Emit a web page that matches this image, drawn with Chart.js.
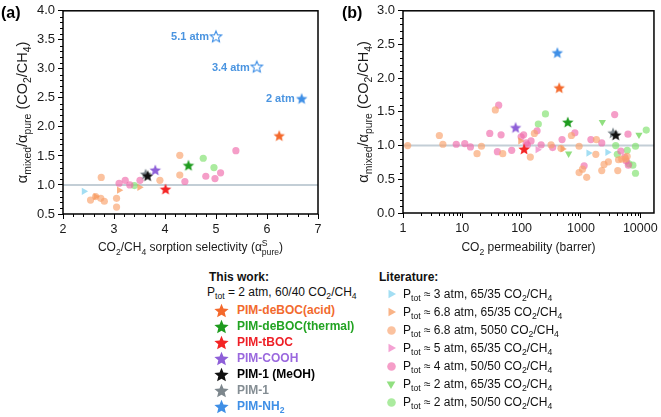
<!DOCTYPE html>
<html>
<head>
<meta charset="utf-8">
<script src="https://cdn.jsdelivr.net/npm/chart.js@4.4.1/dist/chart.umd.min.js"></script>
<style>
	body { margin: 0; background: #fff; }
	#wrap { position: relative; width: 661px; height: 417px; overflow: hidden; font-family: 'Liberation Sans', Arial, sans-serif; color: #111; }
	#chart-a { position: absolute; left: 0; top: 0; }
	#chart-b { position: absolute; left: 330px; top: 0; }
	.lg { position: absolute; white-space: nowrap; line-height: 1; transform: translateY(-50%); font-size: 12px; }
	.lg sub { font-size: 72%; vertical-align: -0.3em; line-height: 0; }
	.b { font-weight: bold; }
</style>
</head>
<body>
<div id="wrap">
	<canvas id="chart-a" width="330" height="260"></canvas>
	<canvas id="chart-b" width="331" height="260"></canvas>
</div>
<script>
// ---- axes ----
const selTicks = [2, 3, 4, 5, 6, 7];
const ratioTicksA = [0.5, 1.0, 1.5, 2.0, 2.5, 3.0, 3.5, 4.0];
const permTicks = [1, 10, 100, 1000, 10000];
const ratioTicksB = [0, 0.5, 1.0, 1.5, 2.0, 2.5, 3.0];
const PERM_MAX = 17000;
const REF_RATIO = 1.0;

// ---- this work ----
const workNames = ['PIM-deBOC(acid)', 'PIM-deBOC(thermal)', 'PIM-tBOC', 'PIM-COOH', 'PIM-1 (MeOH)', 'PIM-1', 'PIM-NH<sub>2</sub>'];
const workColors = ['#f4692c', '#1e9b1e', '#f42424', '#8e5fd8', '#111111', '#7d878d', '#3f8fe6'];
const workTextColors = ['#f26a2e', '#22a322', '#ee1f26', '#9a68de', '#000000', '#848d93', '#3f8fe6'];

// panel (a): sorption selectivity vs mixed/pure ratio (first six)
const workSelA = [6.24, 4.46, 4.01, 3.81, 3.66, 3.62];
const workRatioA = [1.85, 1.34, 0.93, 1.26, 1.16, 1.19];
// PIM-NH2 at three feed pressures
const nh2Press = ['5.1 atm', '3.4 atm', '2 atm'];
const nh2SelA = [5.0, 5.8, 6.68];
const nh2RatioA = [3.56, 3.04, 2.49];

// panel (b): CO2 permeability vs ratio (all seven)
const workPermB = [430, 600, 110, 79, 3850, 3470, 400];
const workRatioB = [1.86, 1.35, 0.95, 1.27, 1.16, 1.19, 2.38];

// ---- literature ----
const litLabels = [
	'P<sub>tot</sub> ≈ 3 atm, 65/35 CO<sub>2</sub>/CH<sub>4</sub>',
	'P<sub>tot</sub> ≈ 6.8 atm, 65/35 CO<sub>2</sub>/CH<sub>4</sub>',
	'P<sub>tot</sub> ≈ 6.8 atm, 5050 CO<sub>2</sub>/CH<sub>4</sub>',
	'P<sub>tot</sub> ≈ 5 atm, 65/35 CO<sub>2</sub>/CH<sub>4</sub>',
	'P<sub>tot</sub> ≈ 4 atm, 50/50 CO<sub>2</sub>/CH<sub>4</sub>',
	'P<sub>tot</sub> ≈ 2 atm, 65/35 CO<sub>2</sub>/CH<sub>4</sub>',
	'P<sub>tot</sub> ≈ 2 atm, 50/50 CO<sub>2</sub>/CH<sub>4</sub>',
];
const litColors = ['rgba(140,214,240,0.8)', 'rgba(247,154,94,0.75)', 'rgba(249,162,108,0.65)', 'rgba(240,122,192,0.7)', 'rgba(240,106,170,0.65)', 'rgba(108,212,86,0.75)', 'rgba(126,224,108,0.65)'];
const litShapes = ['triangle', 'triangle', 'circle', 'triangle', 'circle', 'triangle', 'circle'];
const litRotation = [90, 90, 0, 90, 0, 180, 0];

// panel (a) points [selectivity, ratio]
const lit3A = [[2.41, 0.89]];
const lit68A = [[2.64, 0.80], [3.10, 0.91], [3.50, 0.96]];
const lit68bA = [[2.54, 0.74], [2.64, 0.80], [2.74, 0.77], [2.81, 0.72], [2.75, 1.13], [3.05, 0.77], [3.05, 0.62], [3.90, 1.08], [4.29, 1.51], [4.29, 1.17]];
const lit5A = [];
const lit4A = [[3.10, 1.03], [3.22, 1.08], [3.31, 1.00], [3.51, 1.08], [4.39, 1.06], [4.80, 1.15], [4.98, 1.11], [5.09, 1.21], [5.39, 1.59]];
const lit2A = [];
const lit2bA = [[3.40, 0.99], [4.75, 1.46], [4.96, 1.30]];

// panel (b) points [permeability, ratio]
const lit3B = [[1340, 0.89], [2800, 0.90]];
const lit68B = [[95, 1.07], [490, 0.95]];
const lit68bB = [[1.2, 1.00], [4.1, 1.15], [4.7, 1.02], [17.7, 0.88], [21, 0.99], [36, 1.53], [48, 0.88], [140, 0.83], [164, 1.18], [313, 1.01], [460, 0.96], [690, 1.15], [930, 0.99], [930, 0.60], [1060, 0.65], [1250, 0.53], [1780, 0.87], [1820, 1.09], [2240, 0.63], [2450, 0.72], [2900, 0.76], [4170, 0.63], [4300, 0.79], [4850, 0.80], [5630, 0.80], [6000, 0.84]];
const lit5B = [[186, 0.94]];
const lit4B = [[7.9, 1.02], [11, 1.03], [13.7, 0.98], [29, 1.18], [39, 0.91], [41, 1.60], [45, 1.16], [68, 0.93], [98, 1.13], [108, 1.16], [119, 1.04], [125, 1.01], [144, 1.07], [182, 1.22], [213, 1.01], [333, 0.97], [480, 1.09], [790, 1.19], [1130, 0.70], [1470, 1.09], [2240, 1.04], [3700, 1.46], [4700, 0.92], [5500, 0.83], [5800, 0.77], [6300, 0.71], [6200, 1.17]];
const lit2B = [[620, 0.88], [2290, 1.35], [9500, 1.16]];
const lit2bB = [[191, 1.32], [252, 1.47], [3850, 1.00], [4100, 0.87], [6030, 0.93], [6440, 0.73], [7500, 0.71], [8300, 0.59], [8300, 0.99], [12600, 1.23]];

const litA = [lit3A, lit68A, lit68bA, lit5A, lit4A, lit2A, lit2bA];
const litB = [lit3B, lit68B, lit68bB, lit5B, lit4B, lit2B, lit2bB];

const FONT = '"Liberation Sans", Arial, sans-serif';

function starCanvas(color, r, hollow) {
	const c = document.createElement('canvas');
	const s = Math.ceil(r * 2 + 4);
	c.width = s;
	c.height = s;
	const g = c.getContext('2d');
	g.translate(s / 2, s / 2 + r * 0.1);
	g.beginPath();
	for (let i = 0; i < 10; i++) {
		const rr = i % 2 ? r * 0.45 : r;
		const a = -Math.PI / 2 + i * Math.PI / 5;
		g.lineTo(rr * Math.cos(a), rr * Math.sin(a));
	}
	g.closePath();
	if (hollow) {
		g.fillStyle = '#fff';
		g.fill();
		g.lineWidth = 1.1;
		g.strokeStyle = color;
		g.stroke();
	} else {
		g.fillStyle = color;
		g.fill();
	}
	return c;
}

function markCanvas(shape, rot, color, r) {
	const c = document.createElement('canvas');
	const s = Math.ceil(r * 2 + 4);
	c.width = s;
	c.height = s;
	const g = c.getContext('2d');
	g.translate(s / 2, s / 2);
	g.rotate(rot * Math.PI / 180);
	g.fillStyle = color;
	g.beginPath();
	if (shape === 'circle') {
		g.arc(0, 0, r, 0, Math.PI * 2);
	} else {
		g.moveTo(0, -r);
		g.lineTo(r * 0.87, r * 0.5);
		g.lineTo(-r * 0.87, r * 0.5);
		g.closePath();
	}
	g.fill();
	return c;
}

function pts(xs, ys) {
	return xs.map((x, i) => ({ x: x, y: ys[i] }));
}

function litDatasets(sets) {
	return sets.map((set, i) => ({
		data: set.map(p => ({ x: p[0], y: p[1] })),
		pointStyle: litShapes[i],
		pointRotation: litRotation[i],
		pointRadius: litShapes[i] === 'circle' ? 3.6 : 4.2,
		backgroundColor: litColors[i],
		borderWidth: 0,
	}));
}

function refLine(x0, x1) {
	return {
		data: [{ x: x0, y: REF_RATIO }, { x: x1, y: REF_RATIO }],
		showLine: true,
		borderColor: '#c3ced6',
		borderWidth: 2,
		pointRadius: 0,
	};
}

function rich(ctx, parts, cx, cy, size) {
	const sub = size * 0.72;
	const w = parts.map(p => {
		if (typeof p === 'string') {
			ctx.font = size + 'px ' + FONT;
			return ctx.measureText(p).width;
		}
		ctx.font = sub + 'px ' + FONT;
		return Math.max(p.sub ? ctx.measureText(p.sub).width : 0, p.sup ? ctx.measureText(p.sup).width : 0);
	});
	let x = cx - w.reduce((a, b) => a + b, 0) / 2;
	const base = cy + size * 0.35;
	ctx.textAlign = 'left';
	ctx.textBaseline = 'alphabetic';
	parts.forEach((p, i) => {
		if (typeof p === 'string') {
			ctx.font = size + 'px ' + FONT;
			ctx.fillText(p, x, base);
		} else {
			ctx.font = sub + 'px ' + FONT;
			if (p.sub) ctx.fillText(p.sub, x, base + size * 0.3);
			if (p.sup) ctx.fillText(p.sup, x, base - size * 0.42);
		}
		x += w[i];
	});
}

const yTitleParts = ['α', { sub: 'mixed' }, '/α', { sub: 'pure' }, ' (CO', { sub: '2' }, '/CH', { sub: '4' }, ')'];

const decor = {
	id: 'decor',
	afterDatasetsDraw(chart, args, o) {
		const ctx = chart.ctx;
		ctx.save();
		ctx.fillStyle = '#4a94e0';
		ctx.font = 'bold 11px ' + FONT;
		ctx.textAlign = 'right';
		ctx.textBaseline = 'middle';
		chart.data.datasets.forEach((ds, di) => {
			if (!ds.pressLabels) return;
			chart.getDatasetMeta(di).data.forEach((el, i) => {
				ctx.fillText(ds.pressLabels[i], el.x - 7, el.y + 1);
			});
		});
		ctx.restore();
	},
	afterDraw(chart, args, o) {
		const { ctx, chartArea: ca } = chart;
		const x = chart.scales.x;
		const y = chart.scales.y;
		ctx.save();
		ctx.strokeStyle = '#000';
		ctx.lineWidth = 1;
		ctx.beginPath();
		o.minorX.forEach(v => {
			const p = Math.round(x.getPixelForValue(v)) + 0.5;
			ctx.moveTo(p, ca.bottom);
			ctx.lineTo(p, ca.bottom + 3);
		});
		o.minorY.forEach(v => {
			const p = Math.round(y.getPixelForValue(v)) + 0.5;
			ctx.moveTo(ca.left, p);
			ctx.lineTo(ca.left - 3, p);
		});
		ctx.stroke();

		ctx.lineWidth = 1.5;
		ctx.strokeRect(ca.left, ca.top, ca.right - ca.left, ca.bottom - ca.top);

		ctx.fillStyle = '#000';
		ctx.font = 'bold 16px ' + FONT;
		ctx.textAlign = 'left';
		ctx.textBaseline = 'middle';
		ctx.fillText(o.panel, o.panelX, 14);

		ctx.fillStyle = '#1a1a1a';
		rich(ctx, o.xTitle, (ca.left + ca.right) / 2, 247, 12);

		ctx.save();
		ctx.translate(o.yTitleX, (ca.top + ca.bottom) / 2);
		ctx.rotate(-Math.PI / 2);
		rich(ctx, yTitleParts, 0, 0, 14.5);
		ctx.restore();
		ctx.restore();
	},
};

function axisCommon(extra, size) {
	return Object.assign({
		grid: { drawOnChartArea: false, drawTicks: true, tickLength: 5, color: '#000', lineWidth: 1 },
		border: { display: false },
		ticks: { color: '#1a1a1a', font: { family: FONT, size: size }, padding: 3, autoSkip: false, maxRotation: 0 },
	}, extra);
}

// minor tick positions
const minorSel = [];
for (let v = 2; v < 7; v += 1) for (let k = 1; k < 5; k++) minorSel.push(v + k * 0.2);
const minorRatioA = [];
for (let v = 0.5; v < 4; v += 0.5) for (let k = 1; k < 5; k++) minorRatioA.push(v + k * 0.1);
const minorRatioB = [];
for (let v = 0; v < 3; v += 0.5) for (let k = 1; k < 5; k++) minorRatioB.push(v + k * 0.1);
const minorPerm = [];
for (let d = 1; d <= 10000; d *= 10) for (let k = 2; k < 10; k++) if (d * k < PERM_MAX) minorPerm.push(d * k);

// ---- panel (a) ----
const dsA = [];
workSelA.forEach((v, i) => {
	dsA.push({ data: [{ x: v, y: workRatioA[i] }], pointStyle: starCanvas(workColors[i], 6), pointRadius: 6 });
});
dsA.push({
	data: pts(nh2SelA, nh2RatioA),
	pointStyle: [starCanvas(workColors[6], 6, true), starCanvas(workColors[6], 6, true), starCanvas(workColors[6], 6)],
	pointRadius: 6,
	pressLabels: nh2Press,
});
dsA.push(...litDatasets(litA));
dsA.push(refLine(selTicks[0], selTicks[selTicks.length - 1]));

new Chart(document.getElementById('chart-a'), {
	type: 'scatter',
	data: { datasets: dsA },
	options: {
		responsive: false,
		animation: false,
		events: [],
		layout: { autoPadding: false, padding: { top: 8, right: 12, left: 0, bottom: 0 } },
		plugins: {
			legend: { display: false },
			tooltip: { enabled: false },
			decor: {
				panel: '(a)', panelX: 1, yTitleX: 22,
				minorX: minorSel, minorY: minorRatioA,
				xTitle: ['CO', { sub: '2' }, '/CH', { sub: '4' }, ' sorption selectivity (α', { sup: 'S', sub: 'pure' }, ')'],
			},
		},
		scales: {
			x: axisCommon({
				type: 'linear', min: 2, max: 7,
				afterBuildTicks: s => { s.ticks = selTicks.map(v => ({ value: v })); },
				afterFit: s => { s.height = 46; },
			}, 12.5),
			y: axisCommon({
				type: 'linear', min: 0.5, max: 4,
				afterBuildTicks: s => { s.ticks = ratioTicksA.map(v => ({ value: v })); },
				afterFit: s => { s.width = 63; },
			}, 13),
		},
	},
	plugins: [decor],
});

// ---- panel (b) ----
const dsB = [];
workPermB.forEach((v, i) => {
	dsB.push({ data: [{ x: v, y: workRatioB[i] }], pointStyle: starCanvas(workColors[i], 6), pointRadius: 6 });
});
dsB.push(...litDatasets(litB));
dsB.push(refLine(permTicks[0], PERM_MAX));

const tickFontB = { family: FONT, size: 12.5 };
new Chart(document.getElementById('chart-b'), {
	type: 'scatter',
	data: { datasets: dsB },
	options: {
		responsive: false,
		animation: false,
		events: [],
		layout: { autoPadding: false, padding: { top: 8, right: 6, left: 0, bottom: 0 } },
		plugins: {
			legend: { display: false },
			tooltip: { enabled: false },
			decor: {
				panel: '(b)', panelX: 12, yTitleX: 33,
				minorX: minorPerm, minorY: minorRatioB,
				xTitle: ['CO', { sub: '2' }, ' permeability (barrer)'],
			},
		},
		scales: {
			x: axisCommon({
				type: 'logarithmic', min: permTicks[0], max: PERM_MAX,
				afterBuildTicks: s => { s.ticks = permTicks.map(v => ({ value: v })); },
				afterFit: s => { s.height = 47; },
				ticks: { color: '#1a1a1a', font: tickFontB, padding: 3, autoSkip: false, maxRotation: 0, callback: v => String(v) },
			}),
			y: axisCommon({
				type: 'linear', min: 0, max: 3,
				afterBuildTicks: s => { s.ticks = ratioTicksB.map(v => ({ value: v })); },
				afterFit: s => { s.width = 73; },
				ticks: { color: '#1a1a1a', font: { family: FONT, size: 13 }, padding: 3, autoSkip: false, callback: v => Number(v).toFixed(1) },
			}),
		},
	},
	plugins: [decor],
});

// ---- legend ----
const wrap = document.getElementById('wrap');
function addText(html, x, y, cls, color) {
	const d = document.createElement('div');
	d.className = 'lg ' + (cls || '');
	d.innerHTML = html;
	d.style.left = x + 'px';
	d.style.top = y + 'px';
	if (color) d.style.color = color;
	wrap.appendChild(d);
}
function addMark(c, x, y) {
	c.style.position = 'absolute';
	c.style.left = (x - c.width / 2) + 'px';
	c.style.top = (y - c.height / 2) + 'px';
	wrap.appendChild(c);
}

addText('This work:', 209, 277, 'b');
addText('P<sub>tot</sub> = 2 atm, 60/40 CO<sub>2</sub>/CH<sub>4</sub>', 207, 292);
workNames.forEach((n, i) => {
	const y = 310 + i * 16;
	addMark(starCanvas(workColors[i], 7.5), 221, y);
	addText(n, 237, y, 'b', workTextColors[i]);
});

addText('Literature:', 379, 277, 'b');
litLabels.forEach((n, i) => {
	const y = 294 + i * 18;
	addMark(markCanvas(litShapes[i], litRotation[i], litColors[i], litShapes[i] === 'circle' ? 4.3 : 5), 391, y);
	addText(n, 403, y);
});
</script>
</body>
</html>
